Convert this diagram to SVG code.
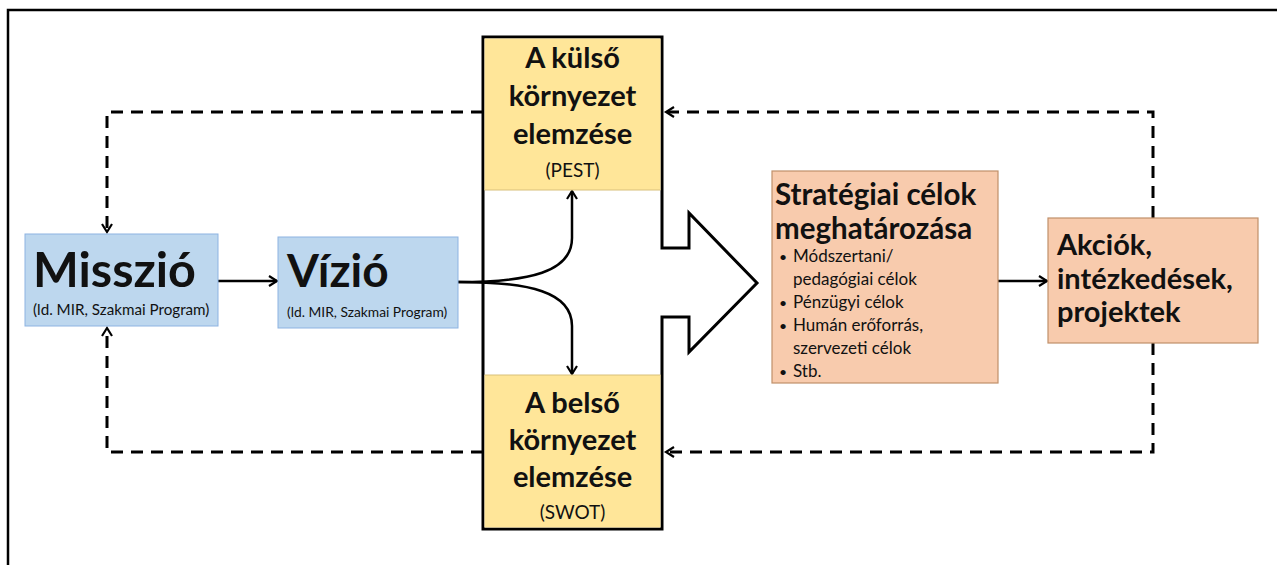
<svg xmlns="http://www.w3.org/2000/svg" width="1277" height="565" viewBox="0 0 1277 565">
<defs>
<style>
.t{font-family:Lato,"Open Sans","Liberation Sans",sans-serif;fill:#111}
.b{font-weight:bold}
.blue{fill:#bdd7ee;stroke:#8db3e2;stroke-width:1}
.peach{fill:#f8cbad;stroke:#c0906a;stroke-width:1.2}
.yel{fill:#ffe699}
.solid{fill:none;stroke:#000;stroke-width:2.5}
.dash{fill:none;stroke:#000;stroke-width:3;stroke-dasharray:12 8}
</style>
<marker id="ah" markerUnits="userSpaceOnUse" markerWidth="14" markerHeight="14" refX="11" refY="7" orient="auto">
<path d="M3,2 L11,7 L3,12" fill="none" stroke="#000" stroke-width="2.2"/>
</marker>
</defs>
<rect width="1277" height="565" fill="#fff"/>
<path d="M8,565 V10 H1277" fill="none" stroke="#000" stroke-width="2.5"/>

<g id="connectors">
<path class="dash" d="M1153,218 V112 H666" marker-end="url(#ah)"/>
<path class="dash" d="M483,112 H107 V232" marker-end="url(#ah)"/>
<path class="dash" d="M1153,343 V452 H666" marker-end="url(#ah)"/>
<path class="dash" d="M483,452 H107 V328" marker-end="url(#ah)"/>
<path class="solid" d="M218,281 H277" marker-end="url(#ah)"/>
<path class="solid" d="M458,282 C530,282 572,272 572,238 V191" marker-end="url(#ah)"/>
<path class="solid" d="M458,282 C530,282 572,292 572,326 V374" marker-end="url(#ah)"/>
<path class="solid" d="M998,281 H1047" marker-end="url(#ah)"/>
</g>

<g id="kornyezet">
<polygon points="483,37 662,37 662,248 689,248 689,213 757,283 689,352 689,317 662,317 662,529 483,529" fill="none" stroke="#000" stroke-width="3"/>
</g>

<g id="kulso">
<rect class="yel" x="484.5" y="38.5" width="176" height="151.5"/>
<line x1="484.5" y1="190" x2="660.5" y2="190" stroke="#d8c07a" stroke-width="1"/>
<text class="t b" text-anchor="middle" font-size="29"><tspan x="572.5" y="68">A külső</tspan><tspan x="572.5" y="106">környezet</tspan><tspan x="572.5" y="144">elemzése</tspan></text>
<text class="t" text-anchor="middle" font-size="19" x="572.5" y="177">(PEST)</text>
</g>

<g id="belso">
<rect class="yel" x="484.5" y="375" width="176" height="152.5"/>
<line x1="484.5" y1="375" x2="660.5" y2="375" stroke="#d8c07a" stroke-width="1"/>
<text class="t b" text-anchor="middle" font-size="29"><tspan x="572.5" y="413">A belső</tspan><tspan x="572.5" y="450">környezet</tspan><tspan x="572.5" y="487">elemzése</tspan></text>
<text class="t" text-anchor="middle" font-size="19" x="572.5" y="519">(SWOT)</text>
</g>

<g id="misszio">
<rect class="blue" x="25" y="234" width="193" height="92"/>
<text class="t b" font-size="48.5" x="33" y="287">Misszió</text>
<text class="t" font-size="15.2" x="33" y="315">(ld. MIR, Szakmai Program)</text>
</g>

<g id="vizio">
<rect class="blue" x="278" y="237" width="180" height="91"/>
<text class="t b" font-size="46" x="287" y="287">Vízió</text>
<text class="t" font-size="13.8" x="287" y="317">(ld. MIR, Szakmai Program)</text>
</g>

<g id="strategiai">
<rect class="peach" x="772" y="171" width="226" height="212"/>
<text class="t b" font-size="29.5" x="775" y="205">Stratégiai célok</text>
<text class="t b" font-size="29.5" x="775" y="239">meghatározása</text>
<g class="t" font-size="17">
<text x="779" y="262" font-size="14">•</text><text x="793" y="262">Módszertani/</text>
<text x="793" y="285">pedagógiai célok</text>
<text x="779" y="308" font-size="14">•</text><text x="793" y="308">Pénzügyi célok</text>
<text x="779" y="331" font-size="14">•</text><text x="793" y="331">Humán erőforrás,</text>
<text x="793" y="354">szervezeti célok</text>
<text x="779" y="377" font-size="14">•</text><text x="793" y="377">Stb.</text>
</g>
</g>

<g id="akciok">
<rect class="peach" x="1048" y="218" width="210" height="125"/>
<text class="t b" font-size="29"><tspan x="1057" y="255">Akciók,</tspan><tspan x="1057" y="289">intézkedések,</tspan><tspan x="1057" y="322">projektek</tspan></text>
</g>
</svg>
